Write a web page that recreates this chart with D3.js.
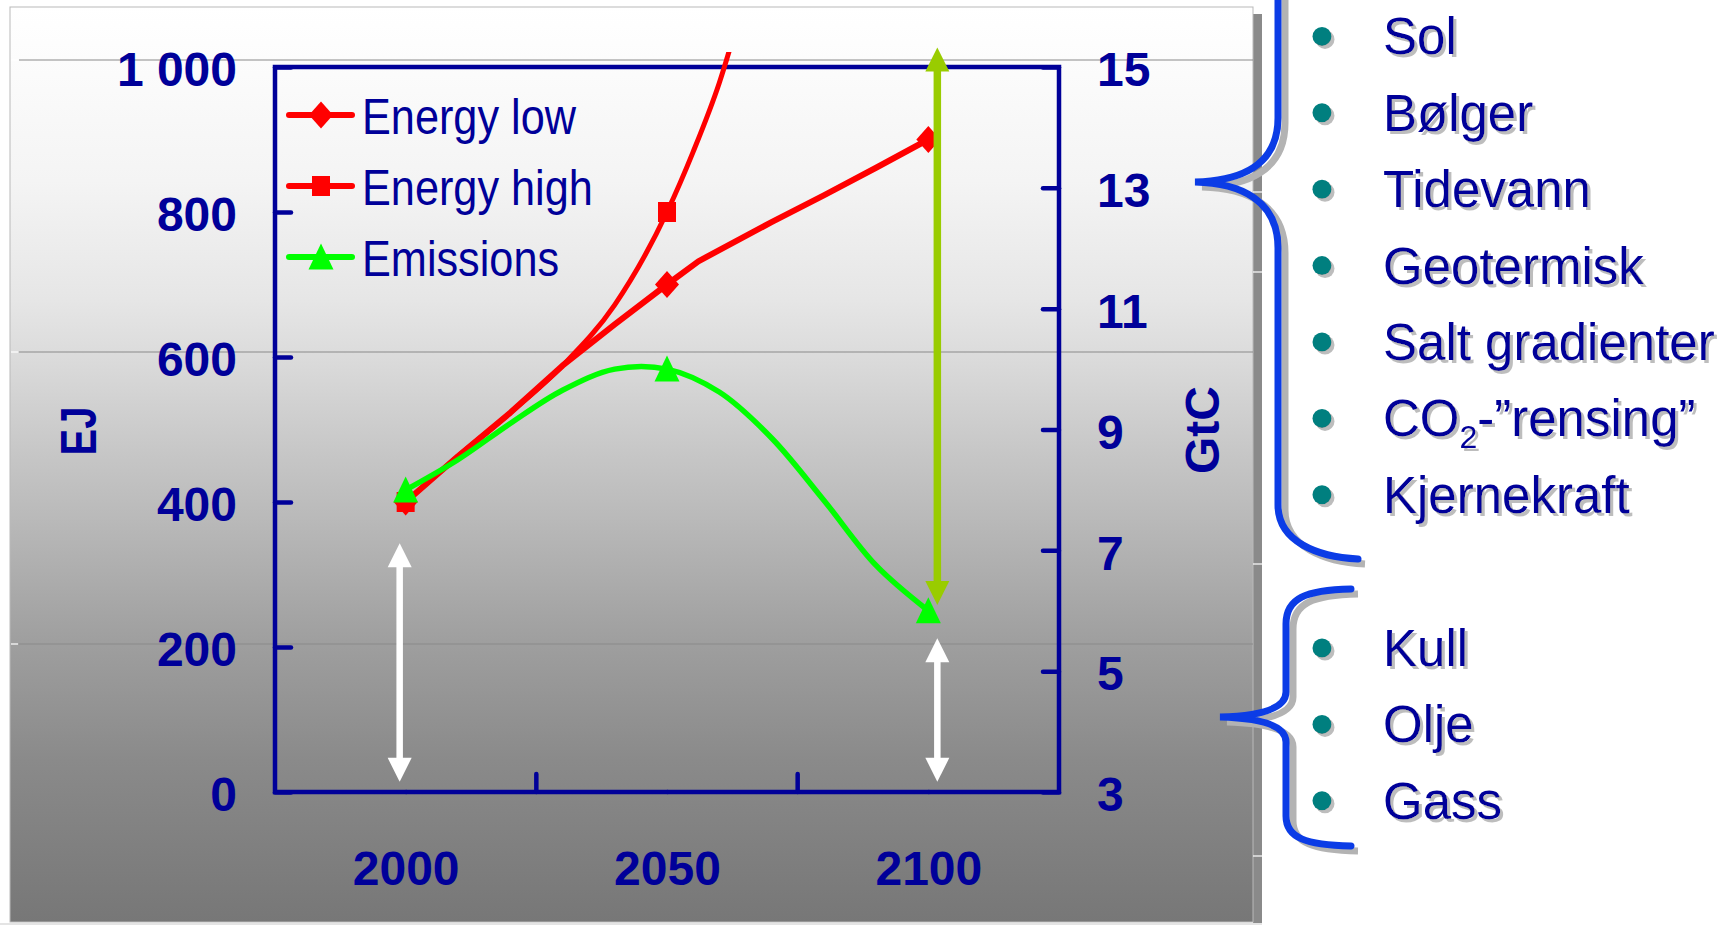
<!DOCTYPE html>
<html>
<head>
<meta charset="utf-8">
<script src="https://cdn.jsdelivr.net/npm/d3@7"></script>
<style>
  html, body { margin: 0; padding: 0; background: #ffffff; }
  svg { display: block; }
</style>
</head>
<body>
<svg id="chart" width="1732" height="925"></svg>
<script>
// ---------------- DATA ----------------
const categories = ["2000", "2050", "2100"];

// marker values at the three categories (null = off the chart)
const energyLowMarkers  = [400, 700, 900];
const energyHighMarkers = [400, 800, null];
const emissionsMarkers  = [8, 10, 6];          // GtC, right axis

// curves: [year, value]
const energyLowYears   = [2000, 2010, 2020, 2030, 2040, 2050, 2056, 2070, 2080, 2090, 2100];
const energyLowValues  = [400, 463, 523, 588, 645, 700, 732, 786, 823, 861, 900];
const energyHighYears  = [2000, 2010, 2020, 2030, 2040, 2050, 2055, 2060, 2065];
const energyHighValues = [400, 463, 523, 588, 672, 800, 883, 978, 1100];
const emissionYears    = [2000, 2010, 2020, 2030, 2040, 2050, 2060, 2070, 2080, 2090, 2100];
const emissionValues   = [8.0, 8.5, 9.1, 9.65, 10.0, 10.0, 9.62, 8.86, 7.83, 6.75, 6.0];

// axes
const leftTicks       = [0, 200, 400, 600, 800, 1000];
const leftTickLabels  = ["0", "200", "400", "600", "800", "1 000"];
const rightTicks      = [3, 5, 7, 9, 11, 13, 15];
const rightTickLabels = ["3", "5", "7", "9", "11", "13", "15"];
const leftTitle  = "EJ";
const rightTitle = "GtC";

// legend
const legendNames   = ["Energy low", "Energy high", "Emissions"];
const legendSymbols = ["diamond", "square", "triangle"];

// annotation arrows (category, value range on EJ axis)
const arrowCats  = ["2000", "2100", "2100"];
const arrowFrom  = [14, 14, 258];
const arrowTo    = [343, 212, 1027];

// side lists
const renewables = ["Sol", "Bølger", "Tidevann", "Geotermisk", "Salt gradienter", "CO2-”rensing”", "Kjernekraft"];
const fossils    = ["Kull", "Olje", "Gass"];

// ---------------- STYLE / LAYOUT ----------------
const FONT = '"Liberation Sans", Arial, Helvetica, sans-serif';
const NAVY = "#000099";
const RED = "#ff0000";
const GREEN = "#00ff00";
const plot = { left: 275, right: 1059, top: 67, bottom: 792 };
const panel = { x: 10, y: 7, w: 1243, h: 915 };

const svg = d3.select("#chart");
const defs = svg.append("defs");

// panel gradient
const grad = defs.append("linearGradient").attr("id", "panelGrad")
  .attr("x1", 0).attr("y1", 0).attr("x2", 0).attr("y2", 1);
[[0, "#ffffff"], [0.058, "#fcfcfc"], [0.19, "#f4f4f4"], [0.32, "#e6e6e6"],
 [0.377, "#dcdcdc"], [0.485, "#c7c7c7"], [0.56, "#b9b9b9"], [0.692, "#9f9f9f"],
 [0.823, "#8a8a8a"], [1, "#777777"]].forEach(s =>
  grad.append("stop").attr("offset", s[0]).attr("stop-color", s[1]));

// shadows
const tShadow = defs.append("filter").attr("id", "tshadow")
  .attr("x", "-10%").attr("y", "-20%").attr("width", "130%").attr("height", "150%");
tShadow.append("feDropShadow").attr("dx", 3).attr("dy", 3).attr("stdDeviation", 0.4)
  .attr("flood-color", "#bdbdbd").attr("flood-opacity", 1);

defs.append("clipPath").attr("id", "plotClip").append("rect")
  .attr("x", plot.left - 20).attr("y", 52).attr("width", plot.right - plot.left + 40)
  .attr("height", plot.bottom - 52 + 20);

// ---------------- BACKGROUND PANEL ----------------
svg.append("rect").attr("x", panel.x + panel.w).attr("y", panel.y + 7)
  .attr("width", 9).attr("height", 925 - panel.y - 7).attr("fill", "#8a8a8a");
svg.append("rect").attr("x", panel.x).attr("y", panel.y).attr("width", panel.w).attr("height", panel.h)
  .attr("fill", "url(#panelGrad)").attr("stroke", "#b9b9b9").attr("stroke-width", 1);
svg.append("rect").attr("x", 0).attr("y", panel.y + panel.h + 1).attr("width", panel.x + panel.w + 9)
  .attr("height", 3).attr("fill", "#e4e4e4");

// background chart gridlines and small ticks
const bgGrid = [60, 352, 644];
bgGrid.forEach(gy => {
  svg.append("line").attr("x1", 19).attr("x2", panel.x + panel.w).attr("y1", gy).attr("y2", gy)
    .attr("stroke", "#8a8a8a").attr("stroke-width", 1.2);
  svg.append("line").attr("x1", 11).attr("x2", 18).attr("y1", gy).attr("y2", gy)
    .attr("stroke", "#ffffff").attr("stroke-width", 1.2);
});
[192, 272, 564, 856].forEach(gy => {
  svg.append("line").attr("x1", panel.x + panel.w).attr("x2", panel.x + panel.w + 9)
    .attr("y1", gy).attr("y2", gy).attr("stroke", "#ffffff").attr("stroke-width", 1.2);
});

// ---------------- SCALES ----------------
const x = d3.scalePoint().domain(categories).range([plot.left, plot.right]).padding(0.5);
const xYear = d3.scaleLinear().domain([+categories[0], +categories[categories.length - 1]])
  .range([x(categories[0]), x(categories[categories.length - 1])]);
const yL = d3.scaleLinear().domain([0, 1000]).range([plot.bottom, plot.top]);
const yR = d3.scaleLinear().domain([3, 15]).range([plot.bottom, plot.top]);

// ---------------- PLOT BOX + AXES ----------------
const AXW = 4.5;
svg.append("rect").attr("x", x.range()[0]).attr("y", yL(1000))
  .attr("width", x.range()[1] - x.range()[0]).attr("height", yL(0) - yL(1000))
  .attr("fill", "none").attr("stroke", NAVY).attr("stroke-width", AXW);

function styleAxis(g) {
  g.select(".domain").remove();
  g.selectAll(".tick line").attr("stroke", NAVY).attr("stroke-width", AXW).attr("stroke-linecap", "round");
  g.selectAll(".tick text").attr("fill", NAVY).style("font-family", FONT)
    .style("font-size", "48px").style("font-weight", "bold");
}

const gL = svg.append("g").attr("transform", `translate(${plot.left},0)`)
  .call(d3.axisLeft(yL).tickValues(leftTicks).tickFormat((d, i) => leftTickLabels[i])
    .tickSize(-16).tickPadding(38));
styleAxis(gL);
gL.selectAll(".tick text").attr("dy", "0.39em");

const gR = svg.append("g").attr("transform", `translate(${plot.right},0)`)
  .call(d3.axisRight(yR).tickValues(rightTicks).tickFormat((d, i) => rightTickLabels[i])
    .tickSize(-16).tickPadding(38));
styleAxis(gR);
gR.selectAll(".tick text").attr("dy", "0.39em");

const gB = svg.append("g").attr("transform", `translate(0,${plot.bottom})`)
  .call(d3.axisBottom(x).tickSize(0).tickPadding(59));
styleAxis(gB);
// tick marks between categories
categories.slice(0, -1).forEach(c => {
  const xb = x(c) + x.step() / 2;
  svg.append("line").attr("x1", xb).attr("x2", xb).attr("y1", yL(0)).attr("y2", yL(0) - 18)
    .attr("stroke", NAVY).attr("stroke-width", AXW).attr("stroke-linecap", "round");
});

// axis titles
function compress(sel, f) {
  sel.each(function () {
    const len = this.getComputedTextLength();
    d3.select(this).attr("textLength", len * f).attr("lengthAdjust", "spacingAndGlyphs");
  });
}
svg.append("text").attr("transform", "translate(96,431) rotate(-90)")
  .attr("text-anchor", "middle").attr("fill", NAVY)
  .style("font-family", FONT).style("font-size", "50px").style("font-weight", "bold")
  .text(leftTitle).call(compress, 0.8);
svg.append("text").attr("transform", "translate(1219,430) rotate(-90)")
  .attr("text-anchor", "middle").attr("fill", NAVY)
  .style("font-family", FONT).style("font-size", "48px").style("font-weight", "bold")
  .text(rightTitle);

// ---------------- MARKER SHAPES ----------------
function markerPath(kind) {
  if (kind === "diamond") return "M0,-13.5L12,0L0,13.5L-12,0Z";
  if (kind === "square") return "M-9,-10H9V10H-9Z";
  return "M0,-13.5L12.5,12.5L-12.5,12.5Z";
}

// ---------------- SERIES ----------------
const plotG = svg.append("g").attr("clip-path", "url(#plotClip)");
const lineGen = (yScale, curve) => d3.line().x(d => xYear(d[0])).y(d => yScale(d[1])).curve(curve);

function drawSeries(years, vals, markers, yScale, color, width, kind, curve) {
  const pts = years.map((yr, i) => [yr, vals[i]]);
  plotG.append("path").datum(pts).attr("d", lineGen(yScale, curve))
    .attr("fill", "none").attr("stroke", color).attr("stroke-width", width)
    .attr("stroke-linejoin", "round").attr("stroke-linecap", "round");
  const md = categories.map((c, i) => ({ c, v: markers[i] })).filter(d => d.v != null);
  plotG.selectAll(null).data(md).enter().append("path")
    .attr("d", markerPath(kind))
    .attr("transform", d => `translate(${x(d.c)},${yScale(d.v)})`)
    .attr("fill", color);
}

drawSeries(energyLowYears, energyLowValues, energyLowMarkers, yL, RED, 6, "diamond", d3.curveLinear);
drawSeries(energyHighYears, energyHighValues, energyHighMarkers, yL, RED, 5, "square", d3.curveMonotoneX);

// ---------------- ANNOTATION ARROWS ----------------
function drawArrow(xp, yTop, yBot, color, shaftW, headW, headL) {
  const g = svg.append("g");
  g.append("line").attr("x1", xp).attr("x2", xp).attr("y1", yTop + headL - 1).attr("y2", yBot - headL + 1)
    .attr("stroke", color).attr("stroke-width", shaftW);
  g.append("path").attr("d", `M${xp},${yTop}L${xp + headW / 2},${yTop + headL}L${xp - headW / 2},${yTop + headL}Z`)
    .attr("fill", color);
  g.append("path").attr("d", `M${xp},${yBot}L${xp + headW / 2},${yBot - headL}L${xp - headW / 2},${yBot - headL}Z`)
    .attr("fill", color);
}
const arrowColors = ["#ffffff", "#ffffff", "#99cc00"];
const arrowDx = [-6, 9, 9];
arrowCats.forEach((c, i) => {
  drawArrow(x(c) + arrowDx[i], yL(arrowTo[i]), yL(arrowFrom[i]), arrowColors[i], i === 2 ? 7.5 : 6.5, 24, 24);
});

drawSeries(emissionYears, emissionValues, emissionsMarkers, yR, GREEN, 5.5, "triangle",
  d3.curveCatmullRom.alpha(0.5));

// ---------------- LEGEND ----------------
const legendColors = [RED, RED, GREEN];
const legY0 = 115, legGap = 71;
legendNames.forEach((name, i) => {
  const ly = legY0 + i * legGap;
  svg.append("line").attr("x1", 289).attr("x2", 352).attr("y1", ly).attr("y2", ly)
    .attr("stroke", legendColors[i]).attr("stroke-width", 6).attr("stroke-linecap", "round");
  svg.append("path").attr("d", markerPath(legendSymbols[i]))
    .attr("transform", `translate(321,${ly})`).attr("fill", legendColors[i]);
  svg.append("text").attr("x", 362).attr("y", ly + 19).attr("fill", NAVY)
    .style("font-family", FONT).style("font-size", "50px")
    .text(name).call(compress, 0.865);
});

// ---------------- BRACES ----------------
const braceUpper = "M1278,-200 L1278,118 C1278,166 1240,181 1195,182 C1240,183 1278,200 1278,248 L1278,505 C1278,542 1318,557 1358,559";
const braceLower = "M1351,589 C1306,590 1286,598 1286,624 L1286,692 C1286,710 1256,716 1220,717 C1256,718 1286,724 1286,742 L1286,816 C1286,838 1306,845 1351,846";
[braceUpper, braceLower].forEach(d => {
  svg.append("path").attr("d", d).attr("transform", "translate(7,5)")
    .attr("fill", "none").attr("stroke", "#b3b3b3").attr("stroke-width", 7).attr("stroke-linecap", "butt");
  svg.append("path").attr("d", d)
    .attr("fill", "none").attr("stroke", "#0b3ce6").attr("stroke-width", 7).attr("stroke-linecap", "round");
});

// ---------------- SIDE LISTS ----------------
const listX = 1322, listTextX = 1383, rowGap = 76.4;
function drawList(items, y0) {
  items.forEach((label, i) => {
    const by = y0 + i * rowGap;
    svg.append("circle").attr("cx", listX).attr("cy", by).attr("r", 9.5)
      .attr("fill", "#007f7f").attr("filter", "url(#tshadow)");
    const t = svg.append("text").attr("x", listTextX).attr("y", by + 18).attr("fill", NAVY)
      .attr("filter", "url(#tshadow)")
      .style("font-family", FONT).style("font-size", "51px");
    const m = label.match(/^CO2(.*)$/);
    if (m) {
      t.append("tspan").text("CO");
      t.append("tspan").attr("dy", 12).style("font-size", "32px").text("2");
      t.append("tspan").attr("dy", -12).text(m[1]);
    } else {
      t.text(label);
    }
  });
}
drawList(renewables, 36.4);
drawList(fossils, 648);
</script>
</body>
</html>
